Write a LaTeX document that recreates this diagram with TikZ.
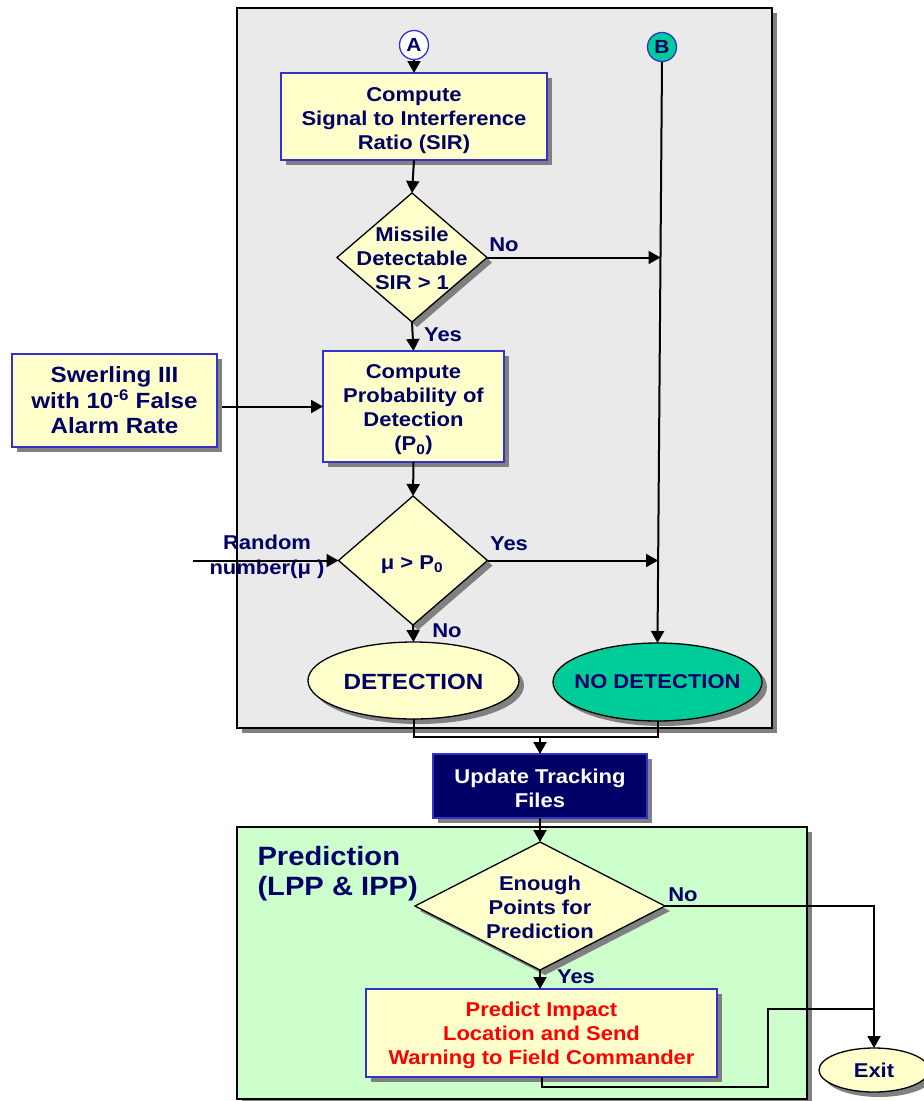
\documentclass[tikz,border=0pt]{standalone}
\usepackage{fontspec}
\setmainfont{Liberation Sans}[FakeStretch=1.1]
\usetikzlibrary{shapes.geometric,shadows,arrows.meta}
\definecolor{navy}{HTML}{000066}
\definecolor{boxfill}{HTML}{FFFFCC}
\definecolor{boxblue}{HTML}{3333CC}
\definecolor{panelgray}{HTML}{EAEAEA}
\definecolor{panelgreen}{HTML}{CCFFCC}
\definecolor{tealfill}{HTML}{00CC99}
\definecolor{shadowgray}{HTML}{808080}
\tikzset{
  shad/.style={drop shadow={shadow xshift=5pt,shadow yshift=-5pt,fill=shadowgray,opacity=1}},
  txt/.style={font=\bfseries\fontsize{20}{24}\selectfont, text=navy, align=center},
  procbox/.style={rectangle, draw=boxblue, line width=1.5pt, fill=boxfill, shad, inner sep=0pt, outer sep=0pt},
  dia/.style={diamond, draw=black, line width=1.3pt, fill=boxfill, shad, inner sep=0pt, outer sep=0pt},
  ell/.style={ellipse, draw=black, line width=1.3pt, shad, inner sep=0pt, outer sep=0pt},
  conn/.style={line width=2pt, draw=black},
  arr/.style={conn, -{Triangle[length=12pt,width=13pt]}},
  panel/.style={rectangle, draw=black, line width=1.8pt, shad, inner sep=0pt, outer sep=0pt},
}
\begin{document}
\begin{tikzpicture}[x=1pt,y=-1pt]
\useasboundingbox (0,0) rectangle (924,1101);
\fill[white] (0,0) rectangle (924,1101);

% panels
\node[panel, fill=panelgray, minimum width=535pt, minimum height=720pt] (grayp) at (504.5,368) {};
\node[panel, fill=panelgreen, minimum width=570pt, minimum height=272pt] (greenp) at (522,963) {};

% connectors A/B
\node[circle, draw=boxblue, fill=white, line width=1.3pt, minimum size=29pt, inner sep=0pt, txt, font=\bfseries\fontsize{19}{19}\selectfont] (A) at (414,45) {A};
\node[circle, draw=boxblue, fill=tealfill, line width=1.3pt, minimum size=29pt, inner sep=0pt, txt, font=\bfseries\fontsize{19}{19}\selectfont] (B) at (662,47) {B};

% shapes
\node[procbox, minimum width=266pt, minimum height=87pt] (sir) at (414,116.5) {};
\node[dia, minimum width=150pt, minimum height=129pt] (d1) at (412,257.5) {};
\node[procbox, minimum width=181pt, minimum height=111pt] (pd) at (413.5,406.5) {};
\node[procbox, minimum width=205pt, minimum height=93pt] (sw) at (114.5,400.5) {};
\node[dia, minimum width=149pt, minimum height=129pt] (d2) at (413,560.5) {};
\node[ell, fill=boxfill, minimum width=211pt, minimum height=77pt] (det) at (413.5,680.5) {};
\node[ell, fill=tealfill, minimum width=209pt, minimum height=78pt] (nodet) at (657.5,682) {};
\node[rectangle, draw=boxblue, line width=1.5pt, fill=navy, shad, inner sep=0pt, outer sep=0pt, minimum width=214pt, minimum height=64pt] (upd) at (540,786) {};
\node[dia, minimum width=250pt, minimum height=128pt] (d3) at (540,906) {};
\node[procbox, minimum width=351pt, minimum height=88pt] (pred) at (541.5,1033) {};
\node[ell, fill=boxfill, minimum width=110pt, minimum height=44pt] (exit) at (874,1070) {};

% texts
\node[txt] (sirt) at ([yshift=-4pt]sir.center) {Compute\\Signal to Interference\\Ratio (SIR)};
\node[txt] (d1t) at (412,258) {Missile\\Detectable\\SIR > 1};
\node[txt] (pdt) at ([yshift=-3.5pt]pd.center) {Compute\\Probability of\\Detection\\(P\textsubscript{0})};
\node[txt, font=\bfseries\fontsize{22}{25.5}\selectfont] (swt) at (sw.center) {Swerling III\\with 10\textsuperscript{-6} False\\Alarm Rate};
\node[txt] (d2t) at (412,565) {μ > P\textsubscript{0}};
\node[txt, font=\bfseries\fontsize{22}{24}\selectfont] (dett) at ([yshift=-1.5pt]det.center) {DETECTION};
\node[txt] (nodett) at (nodet.center) {NO DETECTION};
\node[txt, text=white] (updt) at ([yshift=-2pt]upd.center) {Update Tracking\\Files};
\node[txt] (d3t) at (540,907) {Enough\\Points for\\Prediction};
\node[txt, text=red] (predt) at ([yshift=-2pt]pred.center) {Predict Impact\\Location and Send\\Warning to Field Commander};
\node[txt] (exitt) at (exit.center) {Exit};
\node[txt, font=\bfseries\fontsize{26.5}{30}\selectfont, align=left, anchor=west] (predlbl) at (254,874) {Prediction\\(LPP \& IPP)};

% labels
\node[txt] (no1) at (504,245) {No};
\node[txt] (yes1) at (443,335) {Yes};
\node[txt] (yes2) at (509,544) {Yes};
\node[txt] (no2) at (447,631) {No};
\node[txt] (no3) at (683,895) {No};
\node[txt] (yes3) at (576,977) {Yes};
\node[txt, font=\bfseries\fontsize{20}{25}\selectfont] (rnd) at (267,556.5) {Random\\number(μ )};

% coordinates
\coordinate (bno) at (660.5,257.5);
\coordinate (byes) at (658.1,560.5);
\coordinate (rin) at (193,560.5);
\coordinate (j1) at (540,737);
\coordinate (pa) at (768,1087);
\coordinate (pb) at (768,1009);

% connectors
\draw[arr] (A.south) -- (A.south |- sir.north);
\draw[arr] (sir.south) -- (d1.north);
\draw[arr] (d1.east) -- (bno);
\draw[arr] (d1.south) -- (pd.north);
\draw[arr] ([xshift=5pt]sw.east |- pd.west) -- (pd.west);
\draw[arr] (pd.south) -- (d2.north);
\draw[arr] (rin) -- (d2.west);
\draw[arr] (d2.east) -- (byes);
\draw[arr] (d2.south) -- (det.north);
\draw[arr] (B.south) -- (nodet.north);
\draw[conn] (det.south) |- (j1) -| (nodet.south);
\draw[arr] (j1) -- (upd.north);
\draw[arr] (upd.south) -- (d3.north);
\draw[arr] (d3.east) -| (exit.north);
\draw[arr] (d3.south) -- (d3.south |- pred.north);
\draw[conn] (pred.south) |- (pa) -- (pb) -- (pb -| exit.north);
\end{tikzpicture}
\end{document}
